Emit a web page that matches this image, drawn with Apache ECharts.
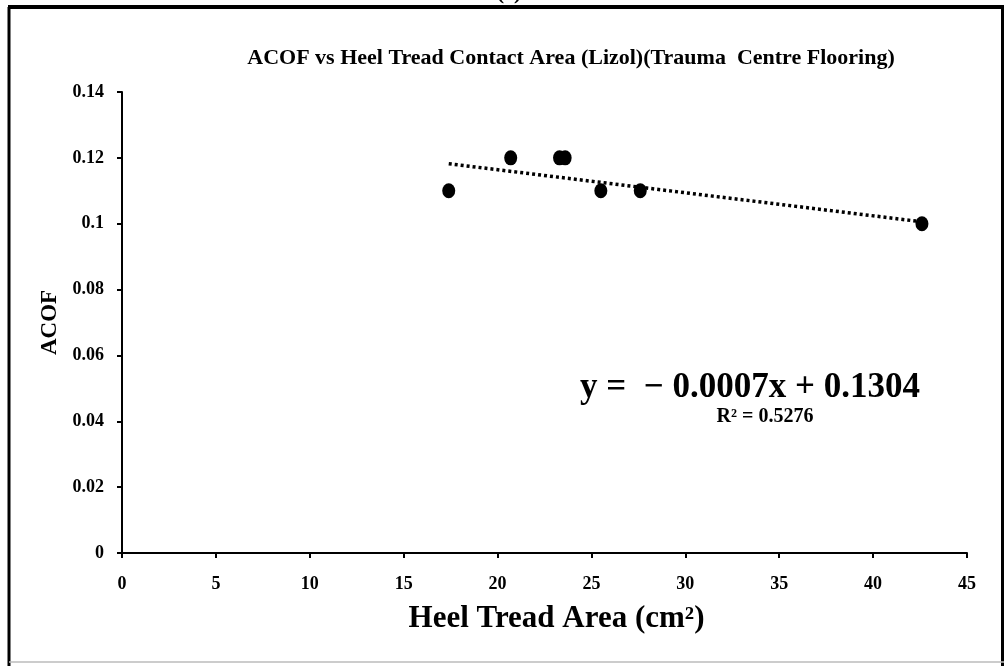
<!DOCTYPE html>
<html>
<head>
<meta charset="utf-8">
<style>
  html, body { margin: 0; padding: 0; background: #fff; }
  #chart { width: 1008px; height: 666px; }
</style>
<script src="https://cdn.jsdelivr.net/npm/echarts@6/dist/echarts.min.js"></script>
</head>
<body>
<div id="chart"></div>
<script>
// Heel tread contact area (cm²) and measured ACOF
const heelArea = [17.4, 20.7, 23.3, 23.6, 25.5, 27.6, 42.6];
const acof     = [0.11, 0.12, 0.12, 0.12, 0.11, 0.11, 0.10];

// Linear trend reported on the chart
const slope = -0.0007;
const intercept = 0.1304;
const rSquared = 0.5276;

const xTicks = [0, 5, 10, 15, 20, 25, 30, 35, 40, 45];
const yTicks = [0, 0.02, 0.04, 0.06, 0.08, 0.1, 0.12, 0.14];

const FONT = '"Liberation Serif", "DejaVu Serif", serif';

const xMin = Math.min(...heelArea);
const xMax = Math.max(...heelArea);
const trend = [
  [xMin, slope * xMin + intercept],
  [xMax, slope * xMax + intercept]
];

const chart = echarts.init(document.getElementById('chart'), null, { renderer: 'canvas' });

chart.setOption({
  backgroundColor: '#ffffff',
  animation: false,
  title: {
    text: 'ACOF vs Heel Tread Contact Area (Lizol)(Trauma  Centre Flooring)',
    left: 566,
    top: 42,
    textAlign: 'center',
    textStyle: { fontFamily: FONT, fontWeight: 'bold', fontSize: 22, color: '#000' }
  },
  grid: { left: 122, right: 41, top: 92, bottom: 113, containLabel: false },
  xAxis: {
    type: 'value',
    min: xTicks[0],
    max: xTicks[xTicks.length - 1],
    interval: 5,
    name: 'Heel Tread Area (cm²)',
    nameLocation: 'middle',
    nameGap: 50,
    nameTextStyle: {
      fontFamily: FONT, fontWeight: 'bold', fontSize: 31, color: '#000',
      padding: [0, 0, 0, 24]
    },
    axisLine: { show: true, lineStyle: { color: '#000', width: 2 } },
    axisTick: { show: true, inside: false, length: 5, lineStyle: { color: '#000', width: 2 } },
    axisLabel: { fontFamily: FONT, fontWeight: 'bold', fontSize: 18, color: '#000', margin: 22 },
    splitLine: { show: false }
  },
  yAxis: {
    type: 'value',
    min: yTicks[0],
    max: yTicks[yTicks.length - 1],
    interval: 0.02,
    name: 'ACOF',
    nameLocation: 'middle',
    nameGap: 55,
    nameRotate: 90,
    nameTextStyle: { fontFamily: FONT, fontWeight: 'bold', fontSize: 23, color: '#000' },
    axisLine: { show: true, lineStyle: { color: '#000', width: 2 } },
    axisTick: { show: true, inside: false, length: 5, lineStyle: { color: '#000', width: 2 } },
    axisLabel: {
      fontFamily: FONT, fontWeight: 'bold', fontSize: 18, color: '#000', margin: 18,
      formatter: v => String(parseFloat(v.toFixed(2)))
    },
    splitLine: { show: false }
  },
  series: [
    {
      name: 'Linear trend',
      type: 'line',
      data: trend,
      symbol: 'none',
      lineStyle: { color: '#000', width: 3.5, type: [3, 3] },
      z: 2
    },
    {
      name: 'ACOF',
      type: 'scatter',
      data: heelArea.map((x, i) => [x, acof[i]]),
      symbol: 'circle',
      symbolSize: [13, 15],
      itemStyle: { color: '#000', opacity: 1 },
      z: 3
    }
  ],
  graphic: [
    // outer frame
    { type: 'line', shape: { x1: 8, y1: 7, x2: 1004, y2: 7 }, style: { stroke: '#000', lineWidth: 4 } },
    { type: 'line', shape: { x1: 9, y1: 7, x2: 9, y2: 666 }, style: { stroke: '#000', lineWidth: 3 } },
    { type: 'line', shape: { x1: 1002.5, y1: 7, x2: 1002.5, y2: 666 }, style: { stroke: '#000', lineWidth: 3 } },
    { type: 'line', shape: { x1: 9, y1: 662, x2: 1004, y2: 662 }, style: { stroke: '#bbb', lineWidth: 1.5 } },
    // panel label above the frame
    {
      type: 'text', x: 509, y: 4,
      style: { text: '(c)', fontFamily: FONT, fontWeight: 'bold', fontSize: 22, fill: '#000',
               align: 'center', verticalAlign: 'bottom' }
    },
    // regression equation
    {
      type: 'text', x: 750, y: 388,
      style: {
        text: 'y =  \u2212 ' + Math.abs(slope).toFixed(4) + 'x + ' + intercept.toFixed(4),
        fontFamily: FONT, fontWeight: 'bold', fontSize: 35, fill: '#000',
        align: 'center', verticalAlign: 'middle'
      }
    },
    {
      type: 'text', x: 765, y: 417,
      style: {
        text: 'R² = ' + rSquared.toFixed(4),
        fontFamily: FONT, fontWeight: 'bold', fontSize: 20, fill: '#000',
        align: 'center', verticalAlign: 'middle'
      }
    }
  ]
});
</script>
</body>
</html>
